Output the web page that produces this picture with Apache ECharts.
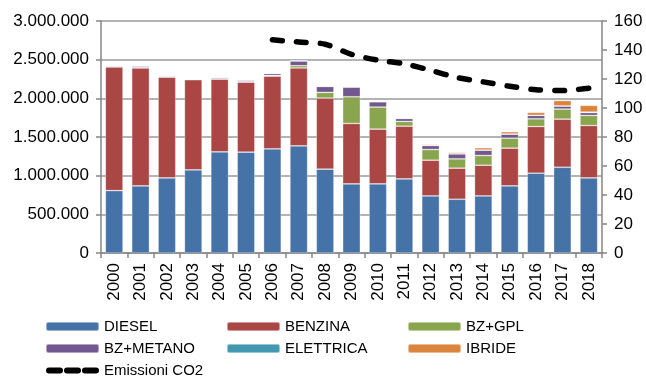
<!DOCTYPE html>
<html><head><meta charset="utf-8">
<script src="https://cdn.jsdelivr.net/npm/echarts@6/dist/echarts.min.js"></script>
<style>html,body{margin:0;padding:0;background:#fff}#c{width:646px;height:379px}</style>
</head><body><div id="c"></div>
<script>
const years = ['2000','2001','2002','2003','2004','2005','2006','2007','2008','2009','2010','2011','2012','2013','2014','2015','2016','2017','2018'];
const diesel   = [807000,868000,971000,1075000,1308000,1304000,1347000,1386000,1084000,894000,894000,958000,738000,695000,738000,868000,1032000,1109000,971000];
const benzina  = [1598000,1524000,1304000,1166000,941000,906000,941000,1006000,919000,781000,708000,682000,462000,402000,397000,488000,604000,622000,678000];
const bzGpl    = [5000,6000,5000,3000,5000,6000,8000,30000,74000,345000,285000,61000,138000,120000,126000,129000,99000,130000,130000];
const bzMetano = [12000,20000,12000,5000,17000,20000,27000,62000,77000,126000,69000,39000,52000,65000,69000,52000,44000,39000,38000];
const elettrica= [0,0,0,0,0,0,0,0,0,0,0,300,500,900,1100,1500,1400,2000,5000];
const ibride   = [0,0,0,0,0,0,0,5000,9000,8000,8000,8000,13000,17000,30000,30000,38000,69000,87000];
const co2      = [null,null,null,null,null,null,147,145.5,144,137,133,130.5,126,121,118,115,112.6,112,113.7];

const FONT = 'Liberation Sans';
const colors = {DIESEL:'#4572A7',BENZINA:'#AA4643','BZ+GPL':'#89A54E','BZ+METANO':'#71588F',ELETTRICA:'#4198AF',IBRIDE:'#DB843D'};
function fmt(v){return String(v).replace(/\B(?=(\d{3})+(?!\d))/g,'.');}
function bar(name,data){
  return {name,type:'bar',stack:'t',data,barWidth:'67%',
    itemStyle:{color:colors[name],borderColor:'rgba(255,255,255,0.45)',borderWidth:0.7},emphasis:{disabled:true}};
}
const legendText = {fontFamily:FONT,fontSize:15,color:'#000'};
function leg(left,names){
  return {orient:'vertical',left,top:319,itemWidth:53,itemHeight:9,itemGap:7,
    textStyle:legendText,data:names,selectedMode:false,padding:0};
}
const dashIcon = 'path://M3,0H14A3,3 0 0 1 14,6H3A3,3 0 0 1 3,0Z M21,0H32A3,3 0 0 1 32,6H21A3,3 0 0 1 21,0Z M39,0H50A3,3 0 0 1 50,6H39A3,3 0 0 1 39,0Z';
const chart = echarts.init(document.getElementById('c'));
chart.setOption({
  animation:false,
  color:Object.values(colors),
  grid:{left:101,right:44,top:21,bottom:126},
  legend:[
    leg(45,['DIESEL','BZ+METANO',{name:'Emissioni CO2',icon:dashIcon,itemStyle:{color:'#000',borderWidth:0}}]),
    leg(226,['BENZINA','ELETTRICA']),
    leg(407,['BZ+GPL','IBRIDE'])
  ],
  xAxis:{type:'category',data:years,
    axisLine:{lineStyle:{color:'#868686',width:1.5}},
    axisTick:{show:true,length:5,lineStyle:{color:'#868686',width:1.5}},
    axisLabel:{rotate:90,margin:10,fontFamily:FONT,fontSize:17,color:'#000'}},
  yAxis:[
    {type:'value',min:0,max:3000000,interval:500000,position:'left',
     axisLine:{show:true,lineStyle:{color:'#868686',width:1.5}},
     axisTick:{show:true,length:5,lineStyle:{color:'#868686',width:1.5}},
     splitLine:{show:true,lineStyle:{color:'#9a9a9a',width:1.5}},
     axisLabel:{margin:12,fontFamily:FONT,fontSize:17,color:'#000',formatter:v=>fmt(v)}},
    {type:'value',min:0,max:160,interval:20,position:'right',
     axisLine:{show:true,lineStyle:{color:'#868686',width:1.5}},
     axisTick:{show:true,length:5,lineStyle:{color:'#868686',width:1.5}},
     splitLine:{show:false},
     axisLabel:{margin:12,fontFamily:FONT,fontSize:17,color:'#000'}}
  ],
  series:[
    bar('DIESEL',diesel),bar('BENZINA',benzina),bar('BZ+GPL',bzGpl),
    bar('BZ+METANO',bzMetano),bar('ELETTRICA',elettrica),bar('IBRIDE',ibride),
    {name:'Emissioni CO2',type:'line',yAxisIndex:1,data:co2,symbol:'none',smooth:0.3,
     connectNulls:false,itemStyle:{color:'#000'},
     lineStyle:{color:'#000',width:5.5,type:[10,14],cap:'round',join:'round'},emphasis:{disabled:true}}
  ]
});
</script></body></html>
